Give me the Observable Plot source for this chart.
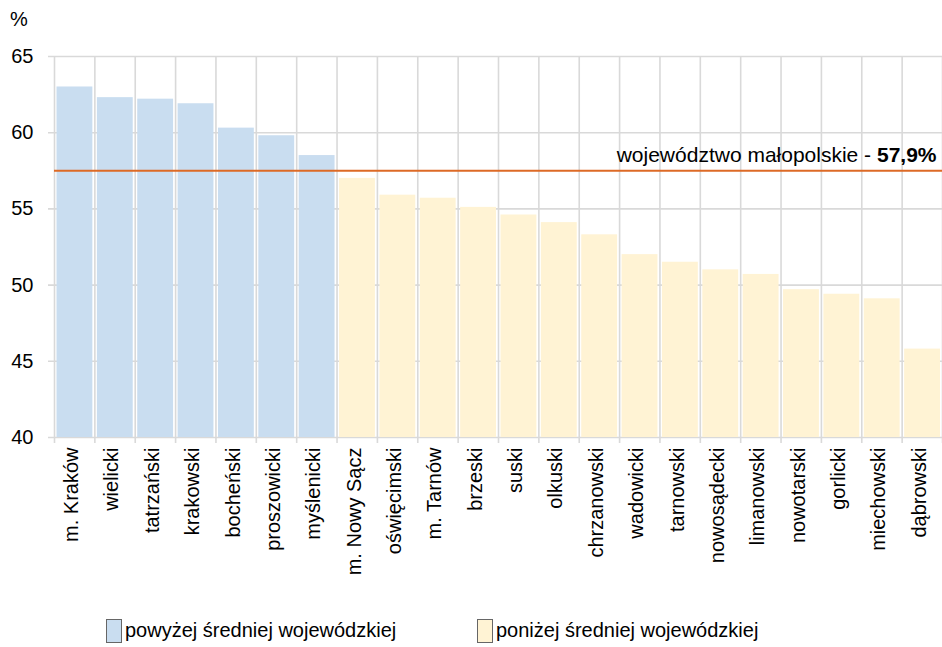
<!DOCTYPE html>
<html><head><meta charset="utf-8">
<script src="https://cdn.jsdelivr.net/npm/d3@7"></script>
<script src="https://cdn.jsdelivr.net/npm/@observablehq/plot@0.6"></script>
<style>
body{margin:0;background:#fff;font-family:"Liberation Sans",Arial,sans-serif;color:#000}
#wrap{position:relative;width:942px;height:647px;overflow:hidden}
#chart{position:absolute;left:0;top:0}
#pct{position:absolute;left:10px;top:8px;font-size:20px}
.lg{position:absolute;top:619px;display:flex;align-items:flex-start;font-size:20px;line-height:22px}
.sw{width:16px;height:24px;border:1px solid #666;margin-right:3px;box-sizing:border-box}
</style></head><body>
<div id="wrap"><div id="chart"></div><div id="pct">%</div><div id="legend"></div></div>
<script>
const districts = ["m. Kraków","wielicki","tatrzański","krakowski","bocheński","proszowicki","myślenicki","m. Nowy Sącz","oświęcimski","m. Tarnów","brzeski","suski","olkuski","chrzanowski","wadowicki","tarnowski","nowosądecki","limanowski","nowotarski","gorlicki","miechowski","dąbrowski"];
const values = [63.0,62.3,62.2,61.9,60.3,59.8,58.5,57.0,55.9,55.7,55.1,54.6,54.1,53.3,52.0,51.5,51.0,50.7,49.7,49.4,49.1,45.8];
const avgValue = 57.9;
const avgLinePos = 57.5;
const avgPrefix = "województwo małopolskie - ";
const avgLabel = "57,9%";
const yTicks = [40,45,50,55,60,65];
const legendLabels = ["powyżej średniej wojewódzkiej","poniżej średniej wojewódzkiej"];
const colors = ["#c9ddf0","#fff3d4"];

const data = districts.map((name,i)=>({i, name, value: values[i], group: values[i] > avgValue ? legendLabels[0] : legendLabels[1]}));
const bounds = d3.range(districts.length + 1).map(k => k - 0.5);
const ff = '"Liberation Sans", Arial, sans-serif';

const chart = Plot.plot({
  width: 942, height: 647,
  marginLeft: 54, marginRight: 0, marginTop: 56, marginBottom: 210,
  style: {fontFamily: ff, fontSize: "20px", color: "#000", background: "transparent", overflow: "visible"},
  x: {type: "linear", domain: [-0.5, districts.length - 0.5], label: null},
  y: {domain: [40, 65], label: null},
  color: {domain: legendLabels, range: colors},
  marks: [
    Plot.ruleY(yTicks, {stroke: "#d9d9d9", strokeWidth: 1.6, insetLeft: -6}),
    Plot.ruleX(bounds, {stroke: "#d9d9d9", strokeWidth: 1.6, insetBottom: -6}),
    Plot.rect(data, {x1: d => d.i - 0.5, x2: d => d.i + 0.5, y1: 40, y2: "value", fill: "group", insetLeft: 2.5, insetRight: 2}),
    Plot.ruleY([avgLinePos], {stroke: "#dd6a26", strokeWidth: 2}),
    Plot.text([avgPrefix + avgLabel], {y: avgLinePos, frameAnchor: "right", textAnchor: "end", dx: -6, dy: -16, fontSize: 21, fill: "#000"}),
    Plot.axisY({ticks: yTicks, tickSize: 0, tickPadding: 21, fontSize: 20, label: null, fill: "#000"}),
    Plot.axisX({ticks: data.map(d => d.i), tickFormat: i => districts[i], tickRotate: -90, tickSize: 0, tickPadding: 10, fontSize: 20, label: null, fill: "#000", dx: -3})
  ]
});
document.getElementById("chart").append(chart);

const ns = "http://www.w3.org/2000/svg";
chart.querySelectorAll("text").forEach(t => {
  if (t.textContent === avgPrefix + avgLabel) {
    t.textContent = "";
    const a = document.createElementNS(ns, "tspan"); a.textContent = avgPrefix;
    const b = document.createElementNS(ns, "tspan"); b.textContent = avgLabel; b.setAttribute("font-weight", "bold");
    t.append(a, b);
  }
});

const legendX = [106, 477];
const lg = document.getElementById("legend");
legendLabels.forEach((lab, k) => {
  const item = document.createElement("div");
  item.className = "lg"; item.style.left = legendX[k] + "px";
  const sw = document.createElement("div"); sw.className = "sw"; sw.style.background = colors[k];
  const tx = document.createElement("span"); tx.textContent = lab;
  item.append(sw, tx); lg.append(item);
});
</script>
</body></html>
